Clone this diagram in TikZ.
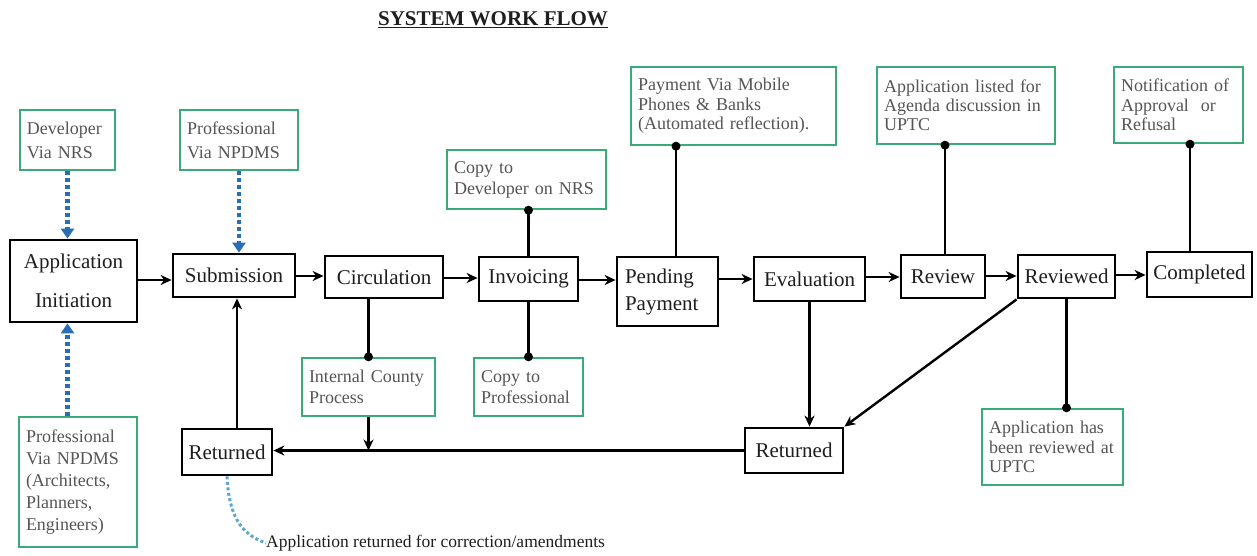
\documentclass[tikz,border=0pt]{standalone}
\usepackage{fontspec}
\setmainfont{Liberation Serif}
\usetikzlibrary{arrows.meta,calc}
\definecolor{notegreen}{RGB}{58,170,120}
\definecolor{notetext}{RGB}{85,85,85}
\definecolor{maintext}{RGB}{30,30,30}
\definecolor{dotblue}{RGB}{40,110,180}
\definecolor{curveblue}{RGB}{95,165,205}
\begin{document}
\begin{tikzpicture}[x=1pt,y=-1pt,
  box/.style={draw=black, line width=2.8pt, fill=white, text=maintext, font=\fontsize{21}{25}\selectfont, inner sep=0pt},
  note/.style={draw=notegreen, line width=2.4pt, fill=white, text=notetext, font=\fontsize{18}{21}\selectfont, align=left, inner xsep=7pt, inner ysep=3pt},
  flow/.style={line width=2.4pt, -{Stealth[length=11pt,width=10pt,inset=3.5pt]}},
  link/.style={line width=2.4pt},
  bluedot/.style={draw=dotblue, line width=4.5pt, dash pattern=on 4pt off 3pt, -{Triangle[length=10pt,width=13pt]}},
  curvedot/.style={draw=curveblue, line width=3pt, dash pattern=on 3pt off 2.5pt}]
\useasboundingbox[fill=white] (0,0) rectangle (1257,555);

% title
\node[font=\bfseries\fontsize{21}{24}\selectfont, text=maintext] (ttl) at (493,20) {\underline{SYSTEM WORK FLOW}};

% main boxes
\node[box, minimum width=127pt, minimum height=82pt, align=center, font=\fontsize{21}{39}\selectfont] (init) at (73.5,281) {Application\\Initiation};
\node[box, minimum width=122pt, minimum height=43pt] (sub) at (234,275.5) {Submission};
\node[box, minimum width=118pt, minimum height=42pt] (circ) at (384,277) {Circulation};
\node[box, minimum width=99pt, minimum height=44pt] (inv) at (528.5,279) {Invoicing};
\node[box, minimum width=101pt, minimum height=69pt, align=left, text width=85pt, font=\fontsize{21}{27}\selectfont] (pend) at (667.5,291.5) {Pending\\Payment};
\node[box, minimum width=111pt, minimum height=44pt] (eval) at (809.5,279) {Evaluation};
\node[box, minimum width=84pt, minimum height=43pt] (rev) at (943,276.5) {Review};
\node[box, minimum width=97pt, minimum height=43pt] (revd) at (1066.5,276.5) {Reviewed};
\node[box, minimum width=105pt, minimum height=45pt] (comp) at (1199.5,274.5) {Completed};
\node[box, minimum width=98pt, minimum height=45pt] (retR) at (794,450.5) {Returned};
\node[box, minimum width=90pt, minimum height=46pt] (retL) at (227,452) {Returned};

% notes
\node[note, text width=81pt, minimum height=60pt, font=\fontsize{18}{24}\selectfont] (n1) at (67.5,140) {Developer\\Via NRS};
\node[note, text width=104pt, minimum height=60pt, font=\fontsize{18}{24}\selectfont] (n2) at (239,140) {Professional\\Via NPDMS};
\node[note, text width=104pt, minimum height=130pt, font=\fontsize{18}{22}\selectfont] (n3) at (78,482) {Professional\\Via NPDMS\\(Architects,\\Planners,\\Engineers)};
\node[note, text width=145pt, minimum height=59pt] (n4) at (526.5,179.5) {Copy to\\Developer on NRS};
\node[note, text width=119pt, minimum height=58pt] (n5) at (368.5,387) {Internal County\\Process};
\node[note, text width=95pt, minimum height=58pt] (n6) at (528.5,387) {Copy to\\Professional};
\node[note, text width=191pt, minimum height=78pt, font=\fontsize{18}{19.5}\selectfont] (n7) at (733.5,106) {Payment Via Mobile\\Phones \& Banks\\(Automated reflection).};
\node[note, text width=164pt, minimum height=77pt, font=\fontsize{18}{19}\selectfont] (n8) at (966,105.5) {Application listed for\\Agenda discussion in\\UPTC};
\node[note, text width=115pt, minimum height=76pt, font=\fontsize{18}{19.5}\selectfont] (n9) at (1178.5,105) {Notification of\\Approval ~or\\Refusal};
\node[note, text width=127pt, minimum height=76pt, font=\fontsize{18}{19.5}\selectfont] (n10) at (1052.5,447) {Application has\\been reviewed at\\UPTC};

% bottom label
\node[anchor=west, font=\fontsize{17.5}{20}\selectfont, text=maintext, inner sep=0pt] (lbl) at (266,543) {Application returned for correction/amendments};

% main flow
\draw[flow] (init.east |- 0,280) -- (sub.west |- 0,280);
\draw[flow] (sub.east |- 0,276) -- (circ.west |- 0,276);
\draw[flow] (circ.east |- 0,278) -- (inv.west |- 0,278);
\draw[flow] (inv.east |- 0,280) -- (pend.west |- 0,280);
\draw[flow] (pend.east |- 0,279) -- (eval.west |- 0,279);
\draw[flow] (eval.east |- 0,277) -- (rev.west |- 0,277);
\draw[flow] (rev.east |- 0,276) -- (revd.west |- 0,276);
\draw[flow] (revd.east |- 0,275) -- (comp.west |- 0,275);

% links to notes
\draw[link] (circ.south -| n5.north) -- (n5.north);
\fill (n5.north) circle (4.5pt);
\draw[link] (inv.north) -- (inv.north |- n4.south);
\fill (inv.north |- n4.south) circle (4.5pt);
\draw[link] (inv.south) -- (inv.south |- n6.north);
\fill (inv.south |- n6.north) circle (4.5pt);
\coordinate (pp) at ([xshift=8.5pt]pend.north);
\draw[link] (pp) -- (pp |- n7.south);
\fill (pp |- n7.south) circle (4.5pt);
\coordinate (rr) at ([xshift=2pt]rev.north);
\draw[link] (rr) -- (rr |- n8.south);
\fill (rr |- n8.south) circle (4.5pt);
\coordinate (cc) at ([xshift=-9.5pt]comp.north);
\draw[link] (cc) -- (cc |- n9.south);
\fill (cc |- n9.south) circle (4.5pt);
\draw[link] (revd.south) -- (revd.south |- n10.north);
\fill (revd.south |- n10.north) circle (4.5pt);

% return paths
\draw[flow] (eval.south) -- (eval.south |- retR.north);
\draw[flow] (revd.south west) -- (retR.north east);
\draw[flow] (retR.west) -- (retR.west -| retL.east);
\draw[flow] (n5.south) -- (n5.south |- retR.west);
\coordinate (ru) at ([xshift=10pt]retL.north);
\draw[flow] (ru) -- (ru |- sub.south);

% blue dotted inputs
\draw[bluedot] (n1.south) -- (n1.south |- init.north);
\draw[bluedot] (n2.south) -- (n2.south |- sub.north);
\draw[bluedot] (n3.north -| n1.south) -- (n1.south |- init.south);

% curved dotted
\draw[curvedot] (retL.south) .. controls (229,515) and (240,534) .. (lbl.west);
\end{tikzpicture}
\end{document}
